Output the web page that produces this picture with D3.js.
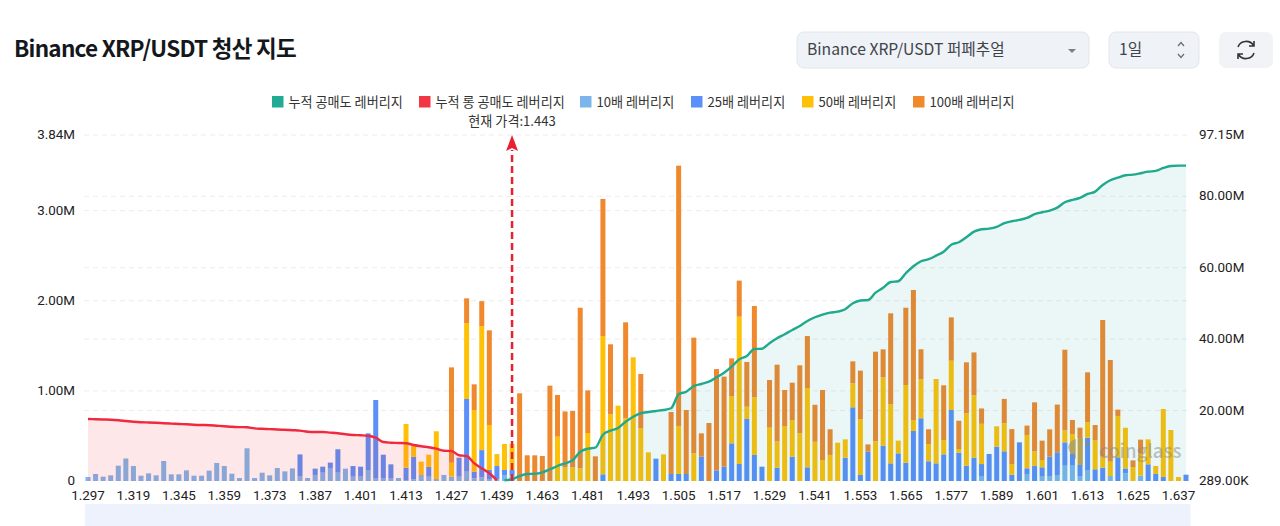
<!DOCTYPE html>
<html>
<head>
<meta charset="utf-8">
<script src="https://cdn.jsdelivr.net/npm/d3@7"></script>
<style>
html, body { margin: 0; padding: 0; background: #fff; overflow: hidden; }
svg { display: block; }
text { font-family: "Noto Sans CJK KR", "Noto Sans", sans-serif; }
.tick text { font-family: Roboto, "Noto Sans", sans-serif; font-size: 13.4px; fill: #222; }
</style>
</head>
<body>
<script>
// tick labels
var priceLabels = ['1.297','1.319','1.345','1.359','1.373','1.387','1.401','1.413','1.427','1.439','1.463','1.481','1.493',
    '1.505','1.517','1.529','1.541','1.553','1.565','1.577','1.589','1.601','1.613','1.625','1.637'];
var leftTicks = [0, 1, 2, 3, 3.84];
var rightTicks = [0.289, 20, 40, 60, 80, 97.15];

var legendNames = ['누적 공매도 레버리지','누적 롱 공매도 레버리지','10배 레버리지','25배 레버리지','50배 레버리지','100배 레버리지'];

// liquidation per price bucket, in millions
var lev10 = [
    .044,.078,.048,.063,.17,.25,.166,.059,.085,.063,
    .222,.074,.074,.118,.059,.059,.115,.2,.166,.081,
    .033,.363,.033,.092,.063,.144,.107,.14,.055,.033,
    .067,.092,.137,.092,.137,.048,.048,.115,.026,.026,
    .026,.033,.011,.018,.067,.048,.022,.067,.048,.048,
    .104,.03,.04,.022,.018,.067,.067,0,0,0,
    0,0,0,0,0,0,0,0,0,0,
    0,0,0,0,0,0,0,0,0,0,
    0,0,0,0,0,0,0,0,0,0,
    0,0,0,0,0,0,0,0,0,0,
    0,0,0,0,0,0,0,0,0,0,
    0,0,0,0,0,0,0,0,.048,0,
    0,0,0,0,.078,0,.048,.055,.067,.17,
    .17,.048,.122,0,0,.055,0,.085,0,.059,
    0,0,0,0,0,0];
var lev25 = [
    0,0,0,0,0,0,0,0,0,0,
    0,0,0,0,0,0,0,0,0,0,
    0,0,0,0,0,0,0,0,.24,0,
    .07,.067,.067,.26,0,.118,.111,.414,.873,.266,
    .159,0,.137,.25,0,.107,0,0,0,.211,
    .806,.074,.303,.1,.148,.055,.055,0,0,0,
    0,0,0,0,0,0,0,0,.074,0,
    0,0,0,0,0,.248,0,.078,.078,.078,
    0,.27,0,.118,.159,.418,.189,.688,.289,.159,
    0,.148,0,.27,0,.152,0,0,0,0,
    .259,.818,.067,.325,0,.392,.196,.307,.203,.555,
    .696,.219,.196,.296,.788,.314,.17,.259,.14,.3,
    .381,.33,.07,.429,.063,.166,.104,.215,.252,.259,
    .137,.13,.359,.13,.148,0,.263,.055,0,0,
    .185,.078,.044,0,0,.07];
var lev50 = [
    0,0,0,0,0,0,0,0,0,0,
    0,0,0,0,0,0,0,0,0,0,
    0,0,0,0,0,0,0,0,0,0,
    0,0,0,0,0,0,0,0,0,0,
    0,0,.485,.122,.148,.137,.53,0,.155,0,
    .84,.684,1.376,.5,.133,.289,.289,0,0,0,
    0,0,.492,.152,.152,.14,.533,0,1.535,.74,
    .836,.696,1.373,.585,.318,0,.296,0,.533,0,
    .307,0,0,0,0,.525,1.635,.137,.64,0,
    .592,.292,.61,.407,.529,.88,.436,.233,.289,.425,
    .203,.266,.618,0,.44,.758,.658,.141,.862,.122,
    .433,.192,.936,.159,.547,.041,.581,.691,.447,0,
    .226,.311,.118,0,.37,.163,.081,0,0,.133,
    .215,.296,.17,.325,.122,.159,.459,.451,.155,.248,
    .277,.089,.755,.566,.044,0];
var lev100 = [
    0,0,0,0,0,0,0,0,0,0,
    0,0,0,0,0,0,0,0,0,0,
    0,0,0,0,0,0,0,0,0,0,
    0,0,0,0,0,0,0,0,0,0,
    0,0,0,0,0,0,0,0,1.058,0,
    .277,.285,.277,1.05,0,0,0,.973,.285,.285,
    .277,1.058,.463,.62,.625,1.783,.473,.274,1.521,.777,
    0,1.065,0,.603,0,0,0,.688,2.889,.71,
    1.284,.259,.644,1.124,.999,.418,.4,.496,1.013,0,
    .529,.851,.4,.414,.755,.577,.41,.777,.285,0,
    0,.244,.54,.081,.995,.311,1.007,0,.858,1.443,
    .333,.163,0,.607,.481,.314,.566,.477,.17,0,
    0,.27,.388,0,.104,.544,.215,.303,.529,.895,
    .155,.118,.555,.166,1.517,1.129,.07,0,.074,.152,
    0,0,0,0,0,0];

// cumulative long, buckets 0 to 54
var cumLong = [
    17.65,17.59,17.51,17.43,17.29,17.09,16.89,16.75,16.67,16.59,
    16.47,16.36,16.25,16.17,16.05,15.97,15.91,15.77,15.63,15.47,
    15.38,15.33,15.02,14.91,14.82,14.71,14.62,14.51,14.40,14.09,
    14.01,14.01,13.84,13.65,13.37,13.17,13.09,12.97,12.41,11.21,
    11.01,10.93,10.85,10.37,10.01,9.73,9.33,8.77,8.69,7.49,
    7.29,5.25,3.85,2.45,.49];
// cumulative short, buckets 55 to 145
var cumShort = [
    .49,.77,1.69,2.25,2.33,2.73,3.57,4.49,5.25,6.09,
    8.49,9.33,9.61,13.25,14.37,15.13,16.89,18.29,19.25,19.61,
    19.89,20.17,20.65,24.57,25.29,26.89,27.45,28.09,29.33,30.61,
    32.29,34.37,35.29,37.25,37.33,38.85,40.25,41.37,42.57,43.69,
    45.09,46.13,46.85,47.41,47.69,48.37,50.05,50.83,50.97,53.01,
    54.41,56.01,56.21,58.45,60.41,61.81,62.37,63.37,64.49,66.45,
    67.13,68.53,70.09,70.77,70.93,71.41,72.45,73.01,73.37,73.93,
    74.97,75.53,75.97,76.81,78.33,78.97,79.53,80.65,81.29,83.17,
    84.49,85.21,85.89,86.05,86.45,86.89,87.09,87.93,88.49,88.57,88.57];

var barColors = ['#7cb5ec','#5b8ff9','#ffc107','#f0882d'];
var width = 1280, height = 526;

var svg = d3.select('body').append('svg')
    .attr('width', width)
    .attr('height', height);

// scales
var buckets = d3.range(lev10.length);
var x = d3.scaleBand().domain(buckets).range([84.2, 1189.8]);
var y = d3.scaleLinear().domain([0, 3.84]).range([481, 135]);
var y2 = d3.scaleLinear().domain([0.289, 97.15]).range([481, 135]);
var cx = function (i) { return x(i) + x.bandwidth() / 2; };

// header
svg.append('text')
    .attr('x', 14).attr('y', 57)
    .attr('font-size', 22.5).attr('font-weight', 700)
    .attr('letter-spacing', -0.75)
    .attr('fill', '#14171c')
    .text('Binance XRP/USDT 청산 지도');

svg.append('rect').attr('x', 797).attr('y', 32).attr('width', 292).attr('height', 36).attr('rx', 7)
    .attr('fill', '#eff2f6').attr('stroke', '#e1e5eb');
svg.append('text').attr('x', 807).attr('y', 55).attr('font-size', 15.7).attr('fill', '#3e444c')
    .text('Binance XRP/USDT 퍼페추얼');
svg.append('path').attr('d', 'M1068,49 h8 l-4,4 z').attr('fill', '#7a8089');

svg.append('rect').attr('x', 1109).attr('y', 32).attr('width', 90).attr('height', 36).attr('rx', 7)
    .attr('fill', '#eff2f6').attr('stroke', '#e1e5eb');
svg.append('text').attr('x', 1119).attr('y', 55).attr('font-size', 15.7).attr('fill', '#3e444c').text('1일');
svg.append('path').attr('d', 'M1178,46 l3,-3.5 l3,3.5 M1178,54 l3,3.5 l3,-3.5')
    .attr('fill', 'none').attr('stroke', '#6a7079').attr('stroke-width', 1.3);

svg.append('rect').attr('x', 1219).attr('y', 32).attr('width', 54).attr('height', 36).attr('rx', 7)
    .attr('fill', '#f1f3f6');
svg.append('path')
    .attr('d', 'M1238,47 a8.5,8 0 0 1 15.5,-1.5 M1254,41 v5 h-5 M1254,53 a8.5,8 0 0 1 -15.5,1.5 M1238,59 v-5 h5')
    .attr('fill', 'none').attr('stroke', '#30353c').attr('stroke-width', 1.6);

// legend, one column position per item
var legendX = [272, 419, 580, 691, 802, 913];
var legendColors = ['#22ab94', '#f23645'].concat(barColors);
var legend = svg.append('g').selectAll('g')
    .data(legendNames)
    .enter()
    .append('g')
    .attr('transform', function (d, i) { return 'translate(' + legendX[i] + ',96)'; });
legend.append('rect').attr('width', 11.5).attr('height', 11.5)
    .attr('fill', function (d, i) { return legendColors[i]; });
legend.append('text').attr('x', 16.5).attr('y', 10.5)
    .attr('font-size', 13.1).attr('fill', '#333')
    .text(function (d) { return d; });

// bottom strip
svg.append('rect').attr('x', 85).attr('y', 504).attr('width', 1105.5).attr('height', 22).attr('fill', '#eef2fd');

// grid lines from both value axes
var gridG = svg.append('g');
gridG.selectAll('line.l').data(leftTicks.slice(1))
    .enter().append('line').attr('class', 'l')
    .attr('y1', y).attr('y2', y);
gridG.selectAll('line.r').data(rightTicks.slice(1, 5))
    .enter().append('line').attr('class', 'r')
    .attr('y1', y2).attr('y2', y2);
gridG.selectAll('line')
    .attr('x1', 84).attr('x2', 1190)
    .attr('stroke', '#ececec').attr('stroke-dasharray', '5,4');

// stacked bars
var table = buckets.map(function (i) {
    return { i: i, a: lev10[i], b: lev25[i], c: lev50[i], d: lev100[i] };
});
var stacked = d3.stack().keys(['a', 'b', 'c', 'd'])(table);
svg.append('g').selectAll('g')
    .data(stacked)
    .enter()
    .append('g')
    .attr('fill', function (d, i) { return barColors[i]; })
    .selectAll('rect')
    .data(function (d) { return d; })
    .enter()
    .append('rect')
    .attr('x', function (d) { return cx(d.data.i) - 2.5; })
    .attr('width', 5)
    .attr('y', function (d) { return y(d[1]); })
    .attr('height', function (d) { return y(d[0]) - y(d[1]); });

// cumulative areas and lines sit above the bars
var longPoints = cumLong.map(function (v, i) { return { i: i, v: v }; });
var shortPoints = cumShort.map(function (v, i) { return { i: i + 55, v: v }; });

var area = d3.area()
    .x(function (d) { return cx(d.i); })
    .y0(481)
    .y1(function (d) { return y2(d.v); })
    .curve(d3.curveMonotoneX);
var line = d3.line()
    .x(function (d) { return cx(d.i); })
    .y(function (d) { return y2(d.v); })
    .curve(d3.curveMonotoneX);

svg.append('path').attr('d', area(longPoints)).attr('fill', '#f23645').attr('fill-opacity', 0.12);
svg.append('path').attr('d', area(shortPoints)).attr('fill', '#1f9aa0').attr('fill-opacity', 0.09);
svg.append('path').attr('d', line(longPoints)).attr('fill', 'none').attr('stroke', '#f0293e').attr('stroke-width', 2.4);
svg.append('path').attr('d', line(shortPoints)).attr('fill', 'none').attr('stroke', '#1fa98d').attr('stroke-width', 2.4);

// axes
var xAxis = d3.axisBottom(x)
    .tickValues(priceLabels.map(function (d, i) { return i * 6; }))
    .tickFormat(function (d) { return priceLabels[d / 6]; })
    .tickSize(0).tickPadding(0);
svg.append('g').attr('transform', 'translate(0,490)').call(xAxis)
    .call(function (g) { g.select('.domain').remove(); });

var yAxis = d3.axisLeft(y)
    .tickValues(leftTicks)
    .tickFormat(function (d) { return d === 0 ? '0' : d.toFixed(2) + 'M'; })
    .tickSize(0).tickPadding(0);
svg.append('g').attr('transform', 'translate(75,-0.7)').call(yAxis)
    .call(function (g) { g.select('.domain').remove(); });

var yAxisRight = d3.axisRight(y2)
    .tickValues(rightTicks)
    .tickFormat(function (d) { return d < 1 ? (d * 1000).toFixed(2) + 'K' : d.toFixed(2) + 'M'; })
    .tickSize(0).tickPadding(0);
svg.append('g').attr('transform', 'translate(1199,-0.7)').call(yAxisRight)
    .call(function (g) { g.select('.domain').remove(); });

// current price marker
var priceX = cx(56);
svg.append('line')
    .attr('x1', priceX).attr('x2', priceX)
    .attr('y1', 481).attr('y2', 150)
    .attr('stroke', '#e8202f').attr('stroke-width', 2.5).attr('stroke-dasharray', '7,4');
svg.append('path')
    .attr('d', 'M' + priceX + ',135 l6,16 l-6,-3 l-6,3 z')
    .attr('fill', '#e8202f');
svg.append('text')
    .attr('x', priceX).attr('y', 126)
    .attr('text-anchor', 'middle')
    .attr('font-size', 13.1).attr('fill', '#333')
    .text('현재 가격:1.443');

// watermark
var mark = svg.append('g').attr('fill', '#85898f').attr('opacity', 0.5);
mark.append('path')
    .attr('d', 'M1068,447 q2,-7 8,-8 v20 q-6,-3 -8,-12 z M1078,438 h5 v27 h-5 z M1085,439 q4,1 5,6 l-5,3 z');
mark.append('text')
    .attr('x', 1099).attr('y', 458)
    .attr('font-family', 'Roboto, sans-serif')
    .attr('font-size', 18.6).attr('font-weight', 500)
    .text('coinglass');
</script>
</body>
</html>
